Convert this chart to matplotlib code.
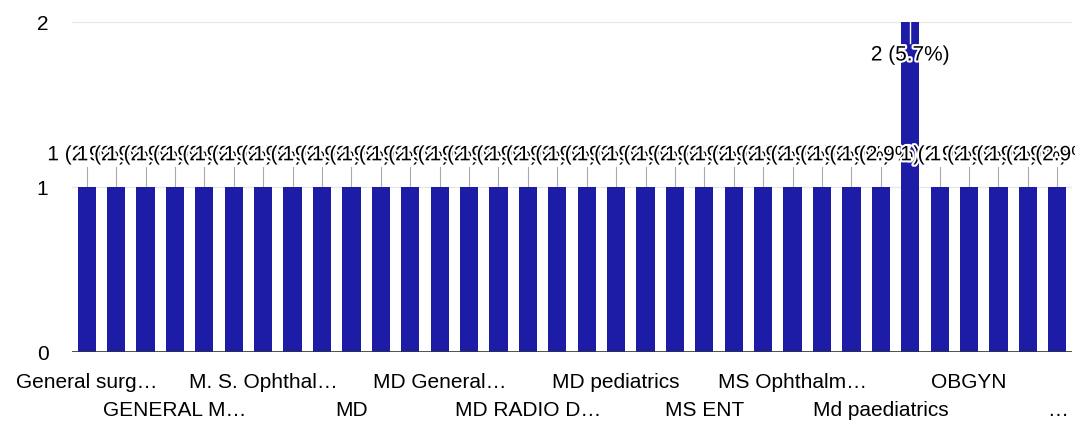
import matplotlib
matplotlib.use("Agg")
import matplotlib.pyplot as plt
import matplotlib.patheffects as pe

categories = [
    "General surgery", "General medicine", "Gynaecology", "GENERAL MEDICINE",
    "M.S. General surgery", "M.S. Ortho", "M. S. Ophthalmology", "M.D. Medicine",
    "MBBS", "MD", "MD Anaesthesia", "MD Dermatology",
    "MD General Medicine", "MD Medicine", "MD Pathology", "MD RADIO DIAGNOSIS",
    "MD Radiology", "MD Respiratory", "MD pediatrics", "MD psychiatry",
    "MS", "MS ENT", "MS General surgery", "MS Ortho",
    "MS Ophthalmology", "MS obg", "Md medicine", "Md paediatrics",
    "Ms Ophthalmology", "OBGYN", "OBGYN ", "Orthopaedics",
    "Pediatrics", "Psychiatry",
]
values = [1] * 28 + [2] + [1] * 5
y_ticks = [0, 1, 2]
# axis labels as displayed (every 3rd category, truncated by the chart)
tick_positions = [0, 3, 6, 9, 12, 15, 18, 21, 24, 27, 30, 33]
tick_labels = [
    "General surg\u2026", "GENERAL M\u2026", "M. S. Ophthal\u2026", "MD",
    "MD General\u2026", "MD RADIO D\u2026", "MD pediatrics", "MS ENT",
    "MS Ophthalm\u2026", "Md paediatrics", "OBGYN", "\u2026",
]

total = sum(values)
bar_color = "#1c1ca6"
font = "Liberation Sans"
fs = 15

fig = plt.figure(figsize=(10.75, 4.23), dpi=100)
ax = fig.add_axes([72 / 1075, (423 - 352) / 423, 1000 / 1075, 330 / 423])
x = list(range(len(categories)))
ax.bar(x, values, width=0.62, color=bar_color, zorder=2)
ax.set_xlim(-0.5, len(categories) - 0.5)
ax.set_ylim(0, 2)

for s in ax.spines.values():
    s.set_visible(False)
for yv in y_ticks[1:]:
    ax.axhline(yv, color="#e6e6e6", lw=0.8, zorder=0)
ax.axhline(0, color="#333333", lw=1.2, zorder=3)

ax.set_yticks(y_ticks)
ax.set_yticklabels([str(t) for t in y_ticks], fontsize=fs, family=font)
ax.tick_params(axis="y", length=0, pad=17)
ax.set_xticks([])

# category labels in two alternating rows
for k, (i, name) in enumerate(zip(tick_positions, tick_labels)):
    yoff = -30 if k % 2 == 0 else -58
    ax.annotate(name, xy=(i, 0), xytext=(0, yoff), textcoords="offset pixels",
                ha="center", va="center", fontsize=fs, family=font, annotation_clip=False)

# value annotations with leader lines
halo = [pe.withStroke(linewidth=3, foreground="white")]
for i, v in enumerate(values):
    txt = f"{v} ({v / total * 100:.1f}%)"
    if v >= 2:
        ax.plot([i, i], [v, v - 0.13], color="white", lw=1, zorder=4)
        ax.text(i, v - 0.2, txt, ha="center", va="center", fontsize=fs, family=font,
                path_effects=halo, zorder=5, clip_on=False)
    else:
        ax.plot([i, i], [v, v + 0.12], color="#aaaaaa", lw=0.8, zorder=1)
        ax.text(i, v + 0.195, txt, ha="center", va="center", fontsize=fs, family=font,
                path_effects=halo, zorder=5, clip_on=False)

fig.savefig("out.png", dpi=100)
